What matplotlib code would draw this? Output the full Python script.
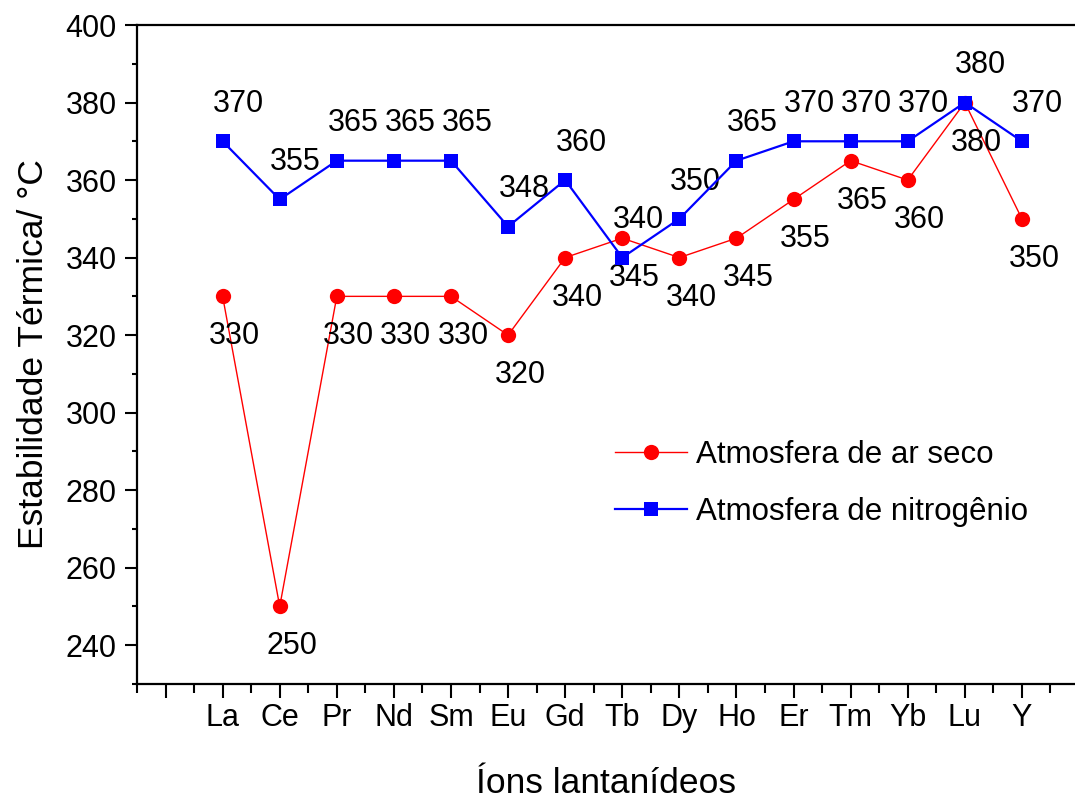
import matplotlib
matplotlib.use("Agg")
import matplotlib.pyplot as plt
from matplotlib.ticker import MultipleLocator, FixedLocator, FixedFormatter

plt.rcParams['font.family'] = ['Liberation Sans', 'DejaVu Sans']

ions = ["La", "Ce", "Pr", "Nd", "Sm", "Eu", "Gd", "Tb", "Dy", "Ho", "Er", "Tm", "Yb", "Lu", "Y"]
ar_seco = [330, 250, 330, 330, 330, 320, 340, 345, 340, 345, 355, 365, 360, 380, 350]
nitrogenio = [370, 355, 365, 365, 365, 348, 360, 340, 350, 365, 370, 370, 370, 380, 370]

x = list(range(3, 3 + len(ions)))

fig = plt.figure(figsize=(10.75, 7.98), dpi=100)
ax = fig.add_axes([137 / 1075, 1 - 684 / 798, 1 - 137 / 1075, (684 - 25) / 798])

ax.plot(x, ar_seco, color="#ff0000", lw=1.0, marker="o", ms=11,
        markeredgewidth=0, label="Atmosfera de ar seco", zorder=3)
ax.plot(x, nitrogenio, color="#0000ff", lw=1.6, marker="s", ms=10.5,
        markeredgewidth=0, label="Atmosfera de nitrogênio", zorder=4)

for xi, v in zip(x, ar_seco):
    ax.annotate(f"{v}", (xi, v), xytext=(8.6, -28.8), textcoords="offset points",
                ha="center", va="center", fontsize=22)
for xi, v in zip(x, nitrogenio):
    ax.annotate(f"{v}", (xi, v), xytext=(11.5, 26.8), textcoords="offset points",
                ha="center", va="center", fontsize=22)

ax.set_xlim(1.5, 17.93)
ax.set_ylim(230, 400)

major_x = list(range(2, 18))
ax.xaxis.set_major_locator(FixedLocator(major_x))
ax.xaxis.set_major_formatter(FixedFormatter([""] + ions))
ax.xaxis.set_minor_locator(FixedLocator([m + 0.5 for m in range(1, 18)]))
ax.yaxis.set_major_locator(MultipleLocator(20))
ax.yaxis.set_minor_locator(MultipleLocator(10))

ax.tick_params(axis="both", which="both", direction="out", width=1.5, labelsize=22)
ax.tick_params(axis="y", which="major", length=8.6, pad=6)
ax.tick_params(axis="y", which="minor", length=3.6)
ax.tick_params(axis="x", which="major", length=10, pad=4)
ax.tick_params(axis="x", which="minor", length=6.5)

for side in ["left", "bottom", "top"]:
    ax.spines[side].set_linewidth(1.6)
ax.spines["right"].set_visible(False)

ax.set_xlabel("Íons lantanídeos", fontsize=25.5, labelpad=24)
ax.set_ylabel("Estabilidade Térmica/ °C", fontsize=25.5, labelpad=11)

ax.legend(loc="upper left", bbox_to_anchor=(0.546, 0.484), bbox_transform=fig.transFigure,
          frameon=False, fontsize=22.5, handlelength=2.3, labelspacing=0.88,
          handletextpad=0.3)

fig.savefig("out.png", dpi=100)
